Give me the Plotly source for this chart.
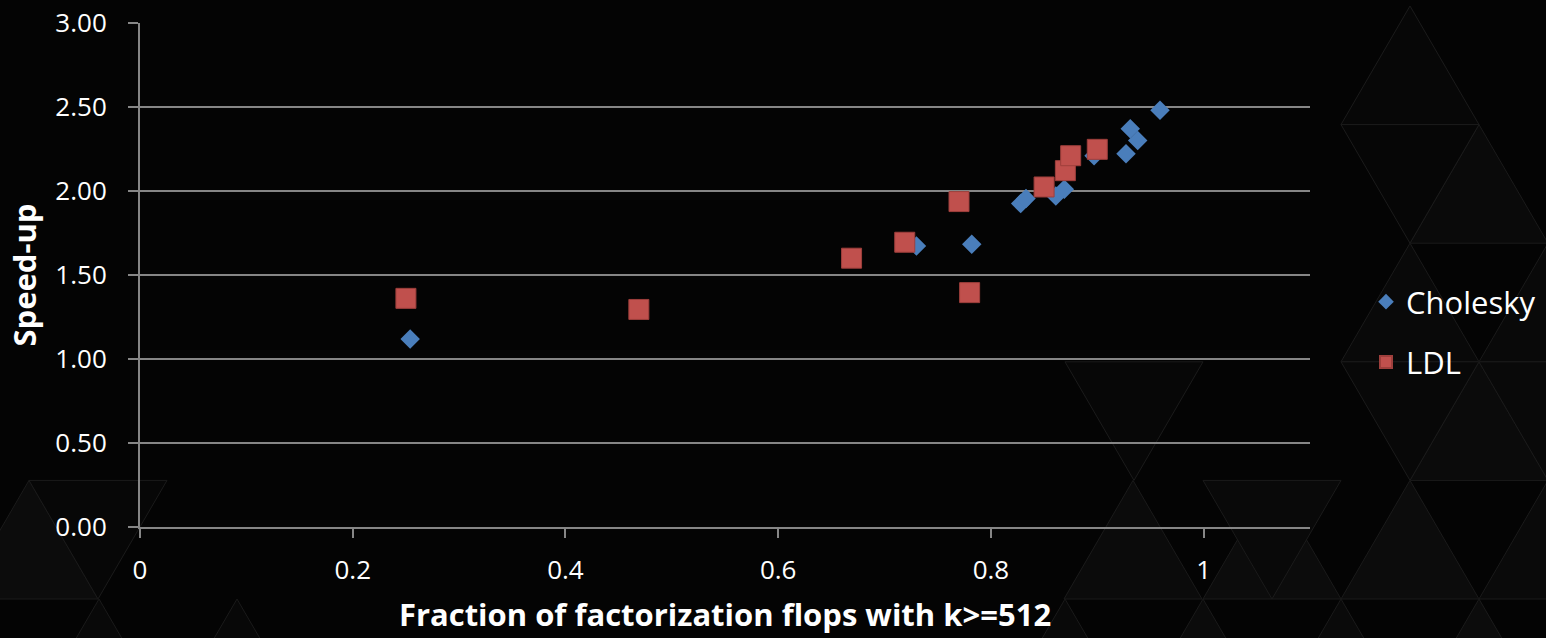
import plotly.graph_objects as go

# ---- data ----
chol_x = [0.254, 0.730, 0.782, 0.828, 0.833, 0.861, 0.869, 0.897, 0.927, 0.931, 0.938, 0.959]
chol_y = [1.119, 1.673, 1.683, 1.925, 1.955, 1.970, 2.010, 2.210, 2.222, 2.370, 2.300, 2.480]
ldl_x = [0.250, 0.469, 0.669, 0.719, 0.770, 0.780, 0.850, 0.870, 0.875, 0.900]
ldl_y = [1.361, 1.295, 1.600, 1.695, 1.937, 1.395, 2.024, 2.121, 2.210, 2.248]

x_title = "Fraction of factorization flops with k>=512"
y_title = "Speed-up"
series_names = ["Cholesky", "LDL"]

FONT = "Open Sans"
GRID = "#868686"

fig = go.Figure()
fig.add_trace(go.Scatter(
    x=chol_x, y=chol_y, mode="markers", name=series_names[0], legendgroup="a",
    marker=dict(symbol="diamond", size=15, color="#4A7EBB", line=dict(width=0)),
))
fig.add_trace(go.Scatter(
    x=ldl_x, y=ldl_y, mode="markers", name=series_names[1], legendgroup="b",
    marker=dict(symbol="square", size=20, color="#C0504D", line=dict(width=1, color="#9E3F3C")),
))

# ---- decorative background triangles (theme pattern) ----
L, T, W, H = 140, 23, 1170, 504


def px(x):
    return (x - L) / W


def py(y):
    return (T + H - y) / H


Y0, DY, DX = 6.0, 118.6, 138.0


def lvl(k):
    return Y0 + DY * k


def up(k, xa):
    return [(xa, lvl(k)), (xa - DX / 2, lvl(k + 1)), (xa + DX / 2, lvl(k + 1))]


def down(k, xl):
    return [(xl, lvl(k)), (xl + DX, lvl(k)), (xl + DX / 2, lvl(k + 1))]


tris = []
for k, xa, f in [(0, 1410, "#070707"), (1, 1479, "#0a0a0a"), (2, 1410, "#090909"), (3, 1479, "#0b0b0b"),
                 (4, 1410, "#0c0c0c"), (4, 1548, "#0a0a0a"), (4, 1133, "#0b0b0b"), (4, 1272, "#0c0c0c"),
                 (4, 29, "#0c0c0c"), (5, 99, "#090909"), (5, 237, "#080808"), (5, 1065, "#090909"),
                 (5, 1203, "#0b0b0b"), (5, 1341, "#0a0a0a"), (5, 1479, "#0c0c0c"), (2, 1548, "#090909")]:
    tris.append((up(k, xa), f))
for k, xl, f in [(3, 1341, "#080808"), (3, 1065, "#070707"), (4, 29, "#070707"), (4, 1203, "#090909"),
                 (1, 1341, "#060606"), (3, 1479, "#090909")]:
    tris.append((down(k, xl), f))

shapes = []
for pts, f in tris:
    path = "M " + " L ".join(f"{px(a):.5f},{py(b):.5f}" for a, b in pts) + " Z"
    shapes.append(dict(type="path", xref="paper", yref="paper", path=path, layer="below",
                       fillcolor=f, line=dict(color="#1b1b1b", width=1)))

fig.update_layout(
    width=1546, height=638,
    margin=dict(l=L, r=1546 - L - W, t=T, b=638 - T - H, autoexpand=False),
    paper_bgcolor="#040404", plot_bgcolor="rgba(0,0,0,0)",
    font=dict(family=FONT, color="#FFFFFF", size=26),
    shapes=shapes,
    showlegend=True,
    legend=dict(x=(1366 - L) / W, xanchor="left", y=py(332), yanchor="middle",
                font=dict(size=31, family=FONT, color="#FFFFFF"),
                bgcolor="rgba(0,0,0,0)", tracegroupgap=17, itemsizing="constant"),
    xaxis=dict(
        range=[0, 1.1], dtick=0.2, tick0=0, showgrid=False, zeroline=False,
        showline=True, linecolor=GRID, linewidth=2,
        ticks="outside", ticklen=9, tickwidth=2, tickcolor=GRID,
        tickfont=dict(size=26, family=FONT, color="#FFFFFF"), ticklabelstandoff=10,
        title=dict(text=x_title, font=dict(size=31, family=FONT, color="#FFFFFF", weight="bold"), standoff=18),
    ),
    yaxis=dict(
        range=[0, 3], dtick=0.5, tick0=0, tickformat=".2f",
        showgrid=True, gridcolor=GRID, gridwidth=2, zeroline=False,
        showline=True, linecolor=GRID, linewidth=2,
        ticks="outside", ticklen=10, tickwidth=2, tickcolor=GRID,
        tickfont=dict(size=26, family=FONT, color="#FFFFFF"), ticklabelstandoff=16,
        title=dict(text=y_title, font=dict(size=31, family=FONT, color="#FFFFFF", weight="bold"), standoff=10),
    ),
)

fig.write_html("out.html")
